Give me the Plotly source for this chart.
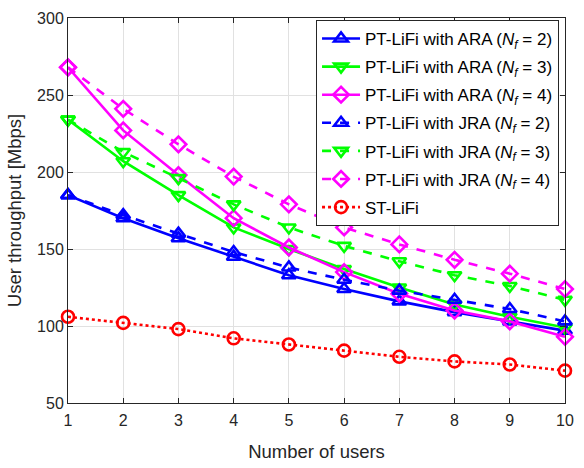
import plotly.graph_objects as go

users = [1, 2, 3, 4, 5, 6, 7, 8, 9, 10]

ara_nf2 = [185, 170, 157, 145, 133, 124, 116, 109, 103, 97]
ara_nf3 = [234, 207, 185, 164, 150, 137, 125, 114, 106, 99]
ara_nf4 = [268, 227, 198, 170, 151, 135, 121, 110, 103, 93]
jra_nf2 = [185, 172, 160, 148, 138, 130, 123, 117, 111, 103]
jra_nf3 = [234, 213, 196, 179, 164, 152, 142, 133, 126, 117]
jra_nf4 = [268, 241, 218, 197, 179, 164, 153, 143, 134, 124]
st_lifi = [106, 102, 98, 92, 88, 84, 80, 77, 75, 71]

x_ticks = [1, 2, 3, 4, 5, 6, 7, 8, 9, 10]
y_ticks = [50, 100, 150, 200, 250, 300]

FONT = "Liberation Sans, Arial, Helvetica, sans-serif"
AXIS_COLOR = "#262626"
GRID_COLOR = "#e1e1e1"


def label(scheme, nf):
    return f"PT-LiFi with {scheme} (<i>N</i><sub><i>f</i></sub> = {nf})"


series = [
    (label("ARA", 2), ara_nf2, "#0000ff", "solid", "triangle-up-open"),
    (label("ARA", 3), ara_nf3, "#00ff00", "solid", "triangle-down-open"),
    (label("ARA", 4), ara_nf4, "#ff00ff", "solid", "diamond-open"),
    (label("JRA", 2), jra_nf2, "#0000ff", "dash", "triangle-up-open"),
    (label("JRA", 3), jra_nf3, "#00ff00", "dash", "triangle-down-open"),
    (label("JRA", 4), jra_nf4, "#ff00ff", "dash", "diamond-open"),
    ("ST-LiFi", st_lifi, "#ff0000", "dot", "circle-open"),
]

fig = go.Figure()
for i, (name, values, color, dash, symbol) in enumerate(series):
    fig.add_trace(go.Scatter(
        x=users, y=values, name=name, mode="lines+markers",
        legendgroup=f"g{i}",
        line=dict(color=color, width=2.6, dash=dash),
        marker=dict(symbol=symbol, size=12, color=color,
                    line=dict(color=color, width=2.6)),
        cliponaxis=False,
    ))

axis_common = dict(
    showline=True, linecolor=AXIS_COLOR, linewidth=1, mirror="ticks",
    ticks="inside", ticklen=5, tickcolor=AXIS_COLOR,
    showgrid=True, gridcolor=GRID_COLOR, gridwidth=1, zeroline=False,
    tickfont=dict(family=FONT, size=16, color=AXIS_COLOR),
)

fig.update_xaxes(
    range=[1, 10], tickvals=x_ticks, ticklabelstandoff=3,
    title=dict(text="Number of users", font=dict(family=FONT, size=18.5, color=AXIS_COLOR), standoff=16),
    **axis_common,
)
fig.update_yaxes(
    range=[50, 300], tickvals=y_ticks,
    title=dict(text="User throughput [Mbps]", font=dict(family=FONT, size=18.5, color=AXIS_COLOR), standoff=10),
    **axis_common,
)

fig.update_layout(
    width=584, height=468,
    margin=dict(l=68, r=10, t=11, b=59),
    paper_bgcolor="white", plot_bgcolor="white",
    font=dict(family=FONT, color="#000000"),
    showlegend=True,
    legend=dict(
        x=0.988, y=0.995, xanchor="right", yanchor="top",
        bgcolor="white", bordercolor=AXIS_COLOR, borderwidth=1,
        font=dict(family=FONT, size=17, color="#000000"),
        itemwidth=38, tracegroupgap=3,
    ),
)

fig.write_html("out.html")
